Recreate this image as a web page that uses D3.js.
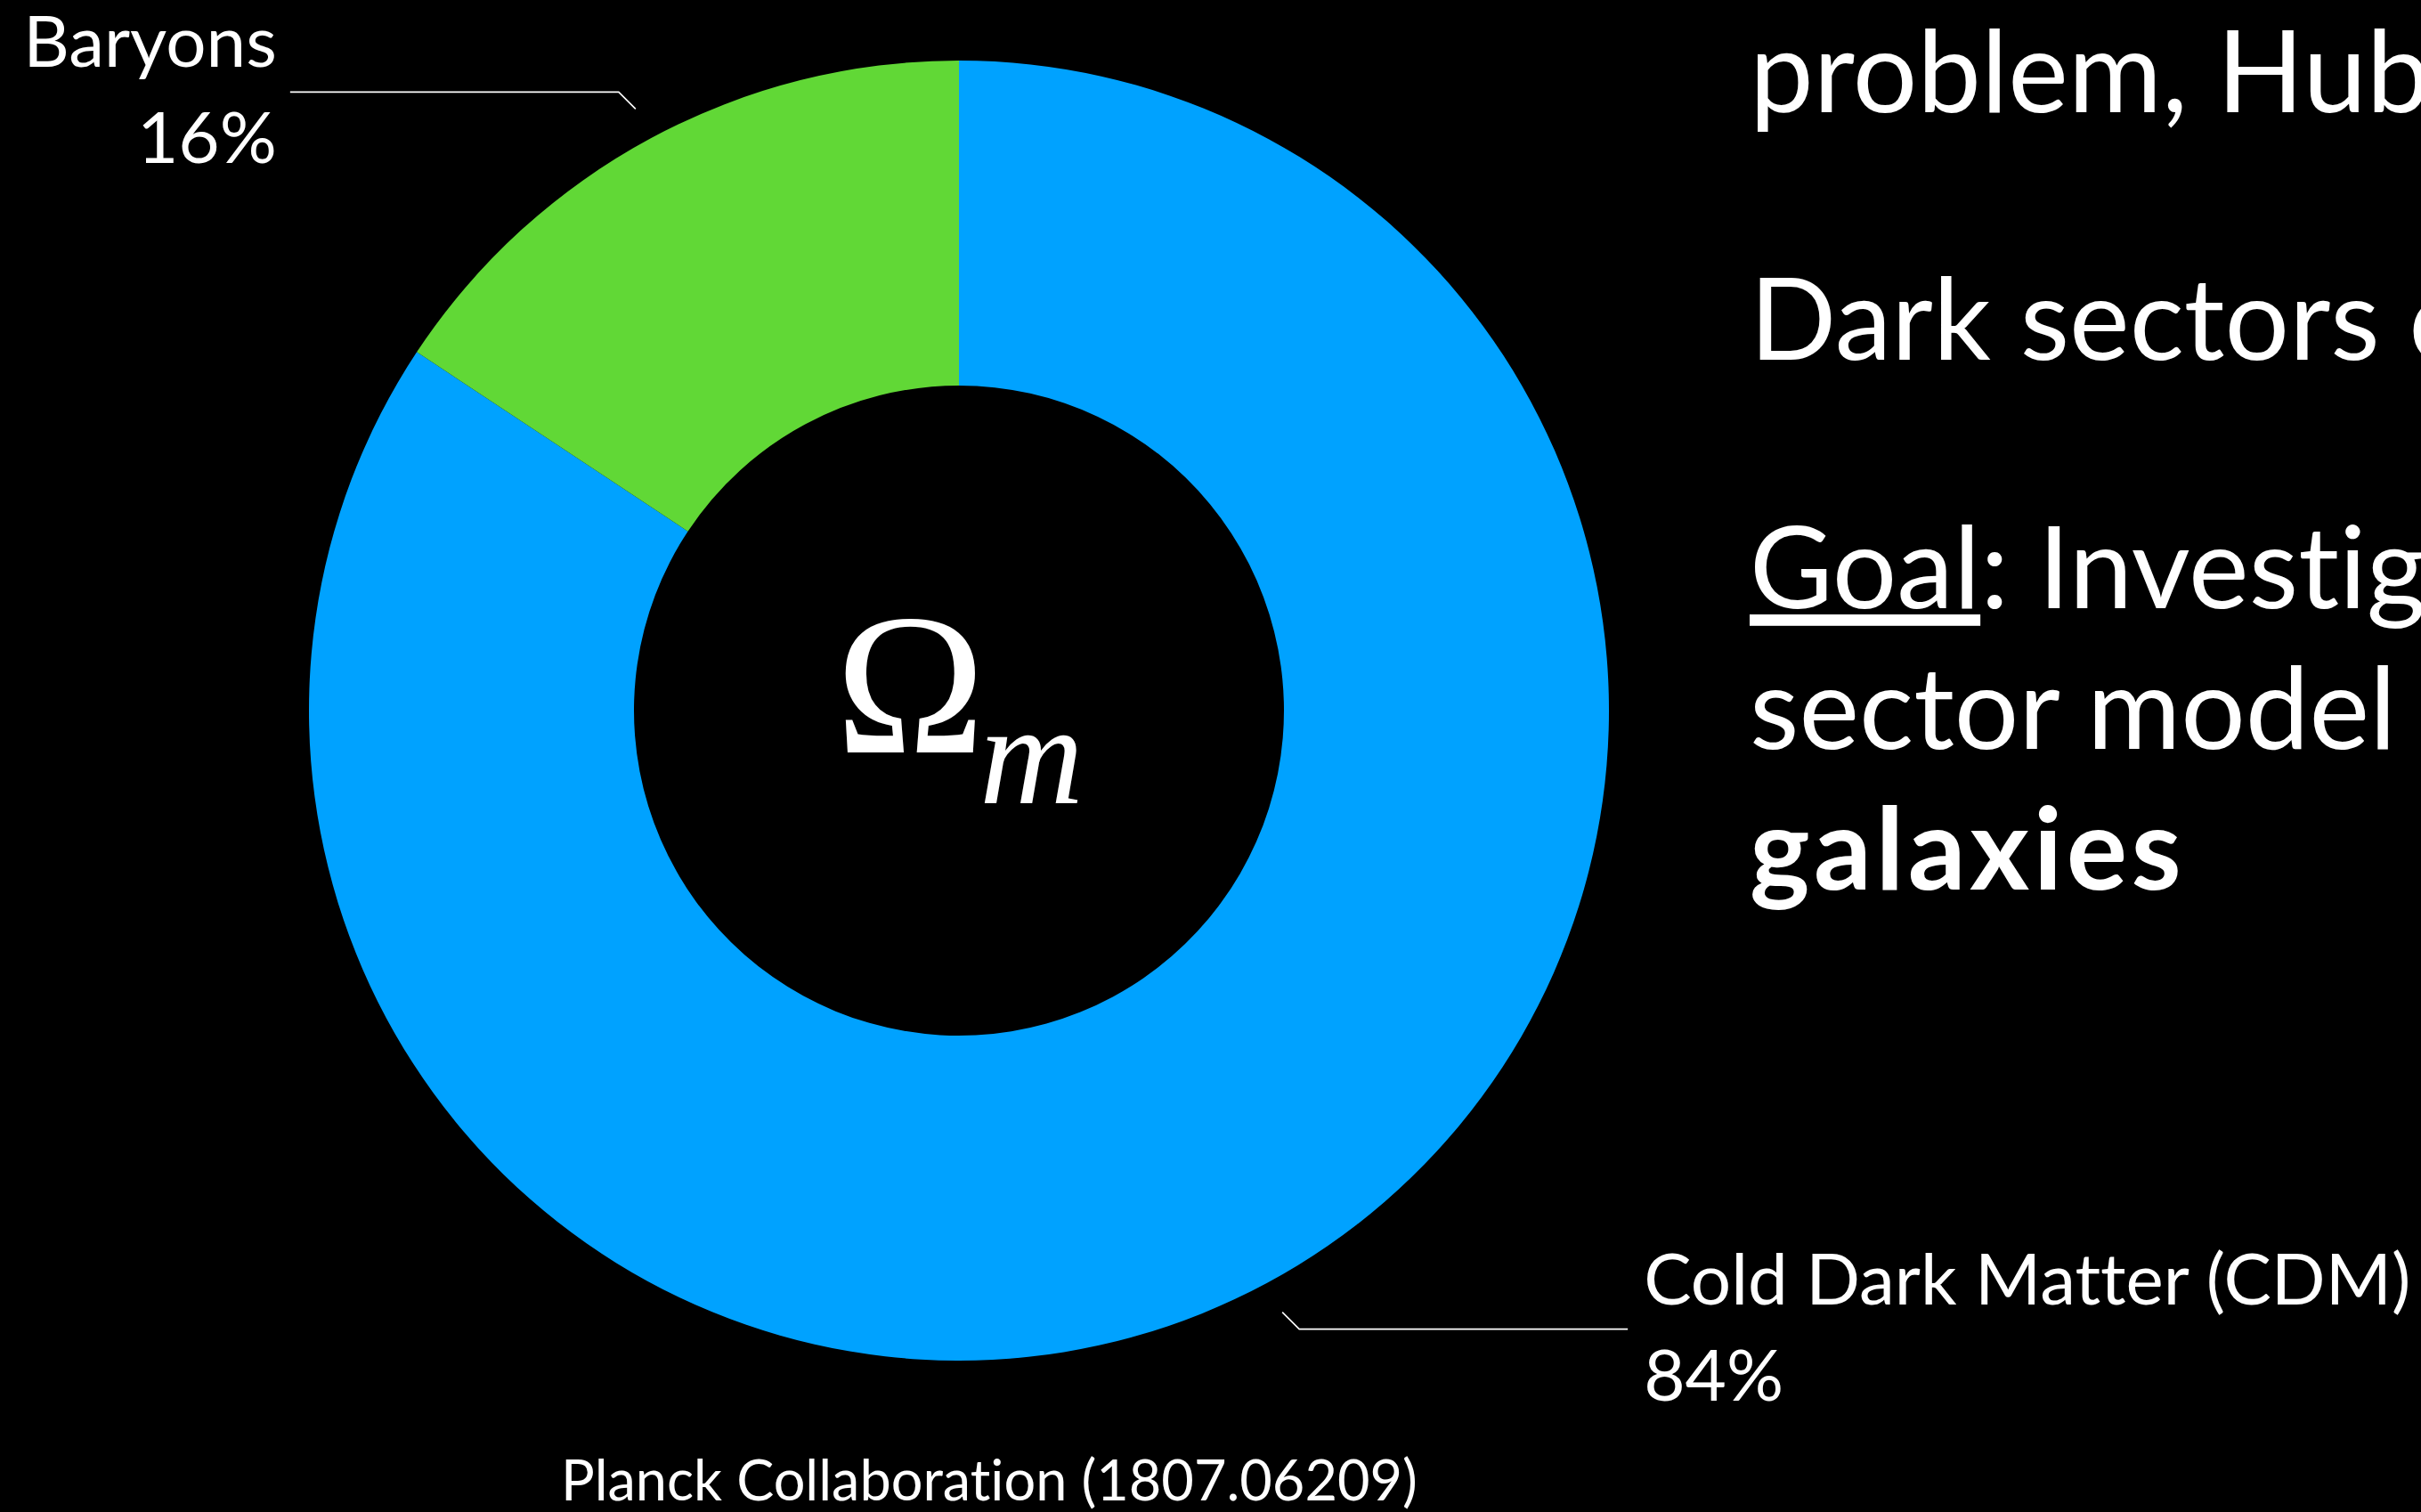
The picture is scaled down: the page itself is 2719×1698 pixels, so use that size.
<!DOCTYPE html>
<html>
<head>
<meta charset="utf-8">
<script src="https://cdn.jsdelivr.net/npm/d3@7"></script>
<style>
  html, body { margin: 0; padding: 0; background: #000; overflow: hidden; }
  svg { display: block; }
  text { font-variant-ligatures: none; font-feature-settings: "liga" 0, "clig" 0; }
</style>
</head>
<body>
<script>
// ---- data ----
const categories = ["Cold Dark Matter (CDM)", "Baryons"];
const values = [84.3, 15.7];
const colors = ["#00A2FF", "#61D836"];
const centerSymbol = "Ω";
const centerSubscript = "m";
const sourceNote = "Planck Collaboration (1807.06209)";
const slideLines = ["problem, Hubble", "Dark sectors c", "Goal", ": Investigate", "sector model", "galaxies"];

// ---- layout ----
const W = 2719, H = 1698;
const cx = 1077, cy = 798;
const rOuter = 730, rInner = 365, rLabel = 767;

const svg = d3.select("body").append("svg")
  .attr("width", W).attr("height", H)
  .style("background", "#000");

const font = "Lato, 'Open Sans', 'Noto Sans', sans-serif";

const pie = d3.pie().sort(null).value(d => d.value).startAngle(0).endAngle(2 * Math.PI);
const data = pie(categories.map((c, i) => ({ name: c, value: values[i], color: colors[i] })));

const arc = d3.arc().innerRadius(rInner).outerRadius(rOuter);
const labelArc = d3.arc().innerRadius(rLabel).outerRadius(rLabel);

const g = svg.append("g").attr("transform", `translate(${cx},${cy})`);

g.selectAll("path.slice").data(data).join("path")
  .attr("class", "slice")
  .attr("d", arc)
  .attr("fill", d => d.data.color);

// leader lines + labels
const diag = 19, horiz = 369;
data.forEach(d => {
  const [sx0, sy0] = labelArc.centroid(d);
  const sx = Math.sign(sx0), sy = Math.sign(sy0);
  const bx = sx0 + sx * diag, by = sy0 + sy * diag;
  const ex = bx + sx * horiz;
  g.append("path")
    .attr("d", d3.line()([[sx0, sy0], [bx, by], [ex, by]]))
    .attr("fill", "none")
    .attr("stroke", "#fff")
    .attr("stroke-width", 1.6);
  const tx = ex + (sx < 0 ? -15 : 18);
  const anchor = sx < 0 ? "end" : "start";
  const t = g.append("text")
    .attr("font-family", font)
    .attr("font-weight", 400)
    .attr("font-size", 80)
    .attr("fill", "#fff")
    .attr("text-anchor", anchor);
  t.append("tspan").attr("x", tx).attr("y", by - 28).text(d.data.name);
  t.append("tspan").attr("x", tx).attr("y", by + 80).text(Math.round(d.data.value) + "%");
});

// center label
const c = svg.append("text")
  .attr("font-family", "'Liberation Serif', 'Times New Roman', serif")
  .attr("fill", "#fff");
c.append("tspan").attr("x", 938).attr("y", 845).attr("font-size", 227).text(centerSymbol);
c.append("tspan").attr("x", 1100).attr("y", 902).attr("font-size", 162).attr("font-style", "italic").text(centerSubscript);

// source note
svg.append("text")
  .attr("x", 630).attr("y", 1685)
  .attr("font-family", font).attr("font-weight", 400).attr("font-size", 63)
  .attr("fill", "#fff")
  .text(sourceNote);

// slide text on the right (clipped by page edge)
const sx = 1965;
const s = svg.append("g").attr("font-family", font).attr("font-weight", 400).attr("font-size", 128).attr("fill", "#fff");
s.append("text").attr("x", sx).attr("y", 126).text(slideLines[0]);
s.append("text").attr("x", sx).attr("y", 404).text(slideLines[1]);
const goal = s.append("text").attr("x", sx).attr("y", 683);
goal.append("tspan").attr("text-decoration", "underline").text(slideLines[2]);
goal.append("tspan").text(slideLines[3]);
s.append("text").attr("x", sx).attr("y", 841).text(slideLines[4]);
s.append("text").attr("x", sx).attr("y", 999).attr("font-weight", 700).attr("letter-spacing", 4.5).text(slideLines[5]);
</script>
</body>
</html>
